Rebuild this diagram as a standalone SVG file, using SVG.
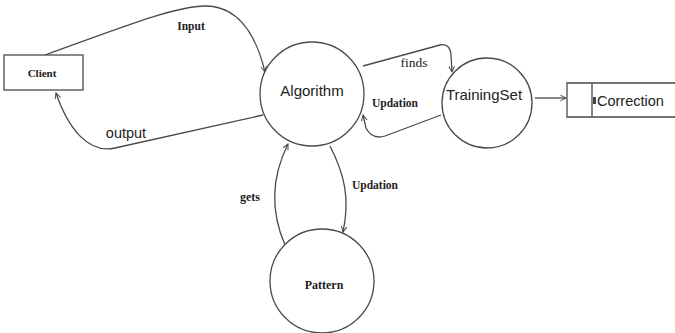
<svg xmlns="http://www.w3.org/2000/svg" width="675" height="333" viewBox="0 0 675 333">
  <style>
    .shape { fill: #fff; stroke: #4a4a4a; stroke-width: 1.3; }
    .edge { fill: none; stroke: #4a4a4a; stroke-width: 1.3; marker-end: url(#arrow); }
    .sans { font-family: "Liberation Sans", Arial, sans-serif; fill: #222; }
    .serif { font-family: "Liberation Serif", "Times New Roman", serif; fill: #222; }
    .bold { font-weight: bold; }
  </style>
  <defs>
    <marker id="arrow" viewBox="0 0 10 10" refX="9" refY="5" markerWidth="7" markerHeight="7" orient="auto" markerUnits="userSpaceOnUse">
      <path d="M1,1 L9,5 L1,9" fill="none" stroke="#4a4a4a" stroke-width="1.4"/>
    </marker>
  </defs>
  <rect width="675" height="333" fill="#fff"/>

  <!-- connectors -->
  <g id="connectors">
    <path id="input" class="edge" d="M45,55 C 120,28 175,6 205,6 C 235,6 255,30 265,72"/>
    <path id="output" class="edge" d="M263,115 L 115,148 C 88,154 68,128 56,93"/>
    <path id="finds" class="edge" d="M363,66 L 440,45 Q 450,43 451,55 L 452,72"/>
    <path id="updation-ts" class="edge" d="M441,115 L 385,136 Q 372,140 366,128 L 363,115"/>
    <path id="updation-pattern" class="edge" d="M330,146 C 345,175 350,200 343,232"/>
    <path id="gets" class="edge" d="M285,245 C 272,215 270,180 288,144"/>
    <path id="to-correction" class="edge" d="M535,98 L 566,98"/>
  </g>

  <!-- connector labels -->
  <g id="labels">
    <text class="serif bold" x="191" y="30" font-size="11.5" text-anchor="middle">Input</text>
    <text class="sans" x="126" y="138" font-size="14.5" text-anchor="middle">output</text>
    <text class="serif" x="414" y="67" font-size="13.5" text-anchor="middle">finds</text>
    <text class="serif bold" x="395" y="107" font-size="11.5" text-anchor="middle">Updation</text>
    <text class="serif bold" x="375" y="189" font-size="11.5" text-anchor="middle">Updation</text>
    <text class="serif bold" x="250" y="201" font-size="12" text-anchor="middle">gets</text>
  </g>

  <!-- nodes -->
  <g id="client">
    <rect class="shape" x="4" y="55" width="79" height="35"/>
    <text class="serif bold" x="42" y="77" font-size="11" text-anchor="middle">Client</text>
  </g>
  <g id="algorithm">
    <circle class="shape" cx="312" cy="94" r="52"/>
    <text class="sans" x="312" y="96" font-size="15" text-anchor="middle">Algorithm</text>
  </g>
  <g id="trainingset">
    <circle class="shape" cx="487" cy="103" r="45"/>
    <text class="sans" x="484" y="100" font-size="15" text-anchor="middle">TrainingSet</text>
  </g>
  <g id="pattern">
    <circle class="shape" cx="322" cy="281" r="52"/>
    <text class="serif bold" x="324" y="289" font-size="12" text-anchor="middle">Pattern</text>
  </g>
  <g id="correction">
    <path class="shape" d="M676,83 L 567,83 L 567,117 L 676,117"/>
    <line x1="592" y1="83" x2="592" y2="117" stroke="#4a4a4a" stroke-width="1.3"/>
    <rect x="593" y="97" width="3" height="7" fill="#444"/>
    <text class="sans" x="597" y="106" font-size="14.5">Correction</text>
  </g>
</svg>
